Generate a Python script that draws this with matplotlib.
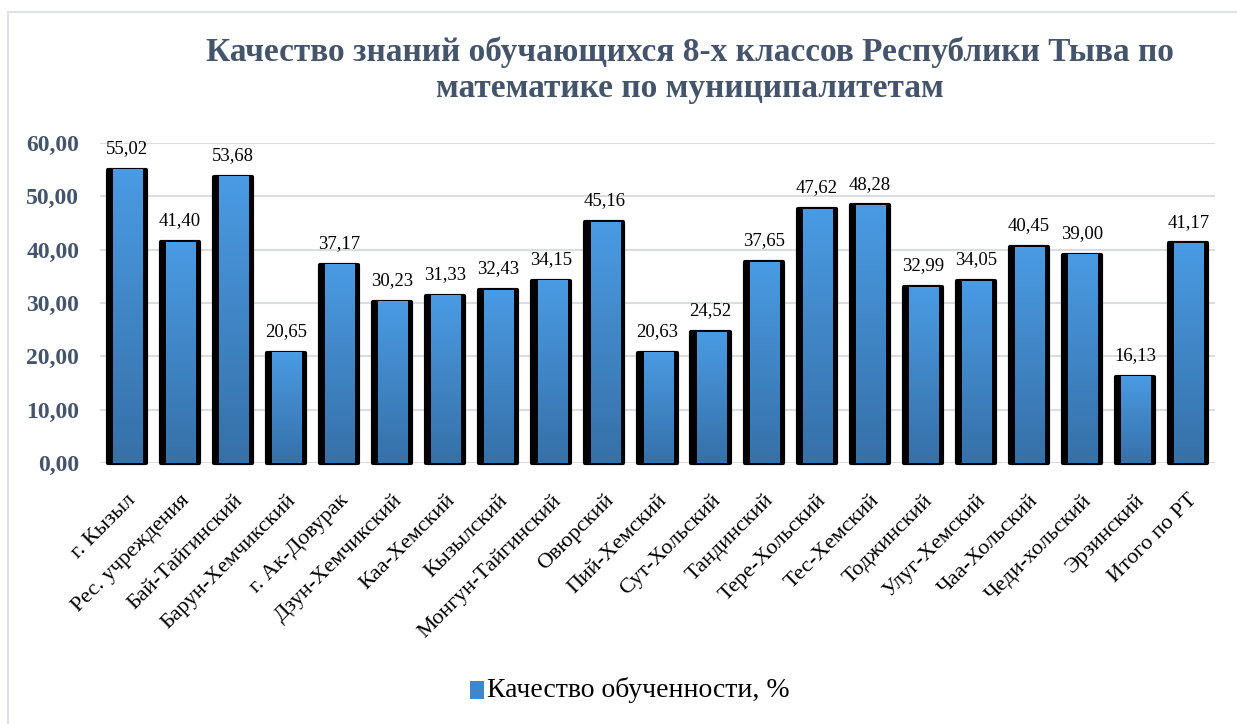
import numpy as np
import matplotlib.pyplot as plt
from matplotlib.patches import Rectangle
from matplotlib.colors import LinearSegmentedColormap

plt.rcParams['font.family'] = ['Liberation Serif', 'DejaVu Serif']

categories = ['г. Кызыл', 'Рес. учреждения', 'Бай-Тайгинский', 'Барун-Хемчикский',
              'г. Ак-Довурак', 'Дзун-Хемчикский', 'Каа-Хемский', 'Кызылский',
              'Монгун-Тайгинский', 'Овюрский', 'Пий-Хемский', 'Сут-Хольский',
              'Тандинский', 'Тере-Хольский', 'Тес-Хемский', 'Тоджинский',
              'Улуг-Хемский', 'Чаа-Хольский', 'Чеди-хольский', 'Эрзинский', 'Итого по РТ']
values = [55.02, 41.40, 53.68, 20.65, 37.17, 30.23, 31.33, 32.43, 34.15, 45.16,
          20.63, 24.52, 37.65, 47.62, 48.28, 32.99, 34.05, 40.45, 39.00, 16.13, 41.17]
yticks = [0, 10, 20, 30, 40, 50, 60]
series_name = 'Качество обученности, %'
title = 'Качество знаний обучающихся 8-х классов Республики Тыва по\nматематике по муниципалитетам'

fig = plt.figure(figsize=(12.37, 7.24), dpi=100)
ax = fig.add_axes([0.081, 0.3605, 0.901, 0.442])

x = np.arange(len(categories))
# black "shadow" bars
ax.bar(x, values, width=0.72, color='black', edgecolor='black', linewidth=3,
       joinstyle='round', zorder=2, clip_on=False)
# gradient inner bars
grad = np.linspace(0, 1, 256).reshape(-1, 1)
cmap = LinearSegmentedColormap.from_list('b', ['#3670a8', '#4a9be3'])
for xi, v in zip(x, values):
    ax.imshow(grad, extent=[xi - 0.26, xi + 0.29, 0, v], origin='lower',
              aspect='auto', cmap=cmap, zorder=3)
    ax.text(xi, v + 2.4, f'{v:.2f}'.replace('.', ','), ha='center', va='bottom',
            fontsize=13.5, zorder=4)

ax.set_xlim(-0.5, len(categories) - 0.5)
ax.set_ylim(0, 60)
ax.set_yticks(yticks)
ax.set_yticklabels([f'{t:.2f}'.replace('.', ',') for t in yticks],
                   fontsize=17, fontweight='bold', color='#44546a')
ax.set_xticks(x)
ax.set_xticklabels(categories, rotation=45, ha='right', rotation_mode='anchor',
                   fontsize=16)
ax.tick_params(axis='both', length=0)
ax.tick_params(axis='x', pad=20)
ax.tick_params(axis='y', pad=15)
ax.grid(axis='y', color='#d9dde3', linewidth=1.5, zorder=0)
ax.set_axisbelow(True)
for s in ax.spines.values():
    s.set_visible(False)

fig.text(0.558, 0.903, title, ha='center', va='center', fontsize=24,
         fontweight='bold', color='#44546a', linespacing=1.2)

# legend
lx, ly = 0.38, 0.047
fig.patches.append(Rectangle((lx, ly - 0.012), 0.011, 0.024, transform=fig.transFigure,
                             facecolor='#3f86cc', edgecolor='none'))
fig.text(lx + 0.014, ly, series_name, ha='left', va='center', fontsize=20)

# chart frame (only top and left visible in the crop)
fig.patches.append(Rectangle((8 / 1237, -0.01), 1.05, 1 - 12 / 724 + 0.01,
                             transform=fig.transFigure, facecolor='none',
                             edgecolor='#dfe3e8', linewidth=1.5))

fig.savefig('out.png', dpi=100)
